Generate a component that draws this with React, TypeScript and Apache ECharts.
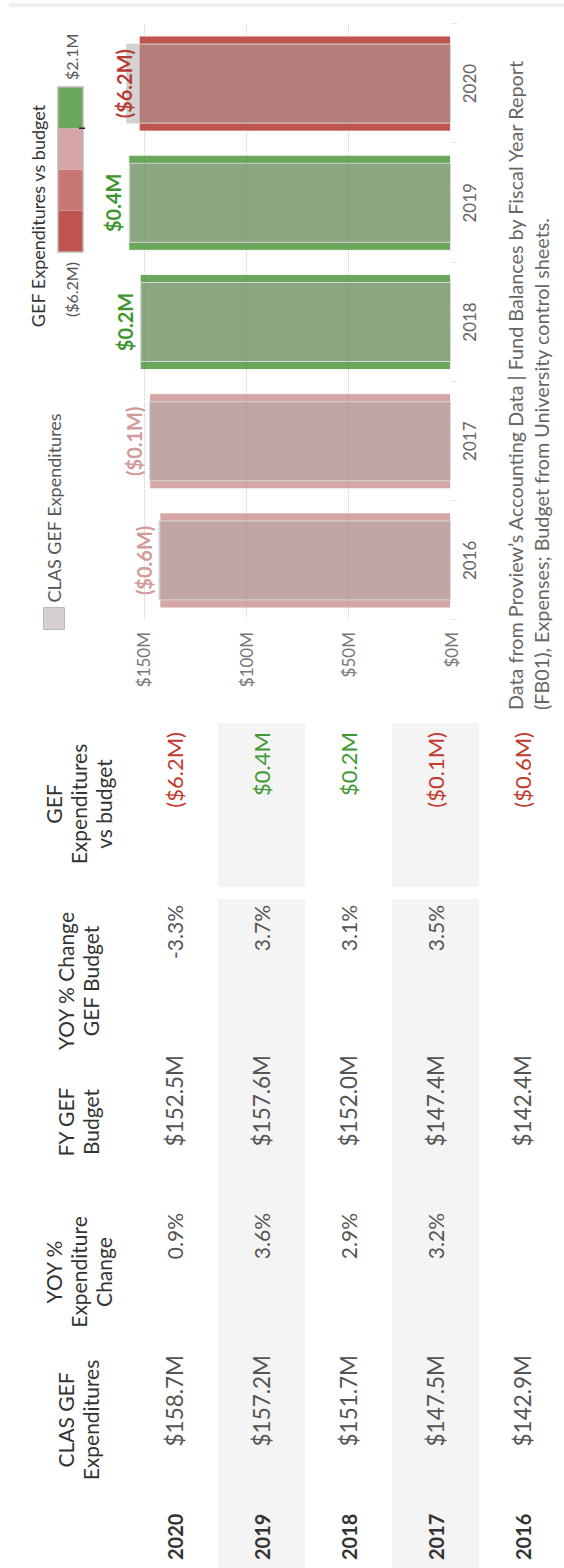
import React, { useEffect, useRef } from "react";
import * as echarts from "echarts";

// ---------- data ----------
const years = ["2020", "2019", "2018", "2017", "2016"];
const expenditures = [158.7, 157.2, 151.7, 147.5, 142.9];
const yoyExpChange: (number | null)[] = [0.9, 3.6, 2.9, 3.2, null];
const budget = [152.5, 157.6, 152.0, 147.4, 142.4];
const yoyBudgetChange: (number | null)[] = [-3.3, 3.7, 3.1, 3.5, null];
const variance = [-6.2, 0.4, 0.2, -0.1, -0.6];
const valueTicks = [0, 50, 100, 150];
const rampMin = -6.2;
const rampMax = 2.1;
const rampColors = ["#c0544f", "#c97774", "#d5a6a5", "#6aa75b"];
const labelColors = ["#b73d37", "#c0605c", "#d39a99", "#3f962f"];
const headers = [
  "CLAS GEF\nExpenditures",
  "YOY %\nExpenditure\nChange",
  "FY GEF\nBudget",
  "YOY % Change\nGEF Budget",
  "GEF\nExpenditures\nvs budget",
];
const footnote =
  "Data from Proview\u2019s Accounting Data | Fund Balances by Fiscal Year Report\n(FB01), Expenses; Budget from University control sheets.";

// ---------- helpers ----------
const W = 1568;
const H = 564;
const FONT = "Lato";
const money = (v: number) => `$${v.toFixed(1)}M`;
const varText = (v: number) => (v < 0 ? `($${Math.abs(v).toFixed(1)}M)` : `$${v.toFixed(1)}M`);
const pct = (v: number | null) => (v === null ? "" : `${v.toFixed(1)}%`);
const stepIndex = (v: number) =>
  Math.max(0, Math.min(rampColors.length - 1, Math.floor(((v - rampMin) / (rampMax - rampMin)) * rampColors.length)));

function buildGraphics() {
  const g: any[] = [];
  const rowTop = 131;
  const rowH = 87;
  // row bands
  years.forEach((_, i) => {
    if (i % 2 === 1) {
      g.push({ type: "rect", silent: true, z: -10, shape: { x: 0, y: rowTop + i * rowH, width: 669, height: rowH }, style: { fill: "#f4f4f4" } });
      g.push({ type: "rect", silent: true, z: -10, shape: { x: 681, y: rowTop + i * rowH, width: 164, height: rowH }, style: { fill: "#f4f4f4" } });
    }
  });
  // headers
  const headerCenters = [148, 296, 446, 587, 764];
  headers.forEach((h, i) => {
    g.push({
      type: "text",
      x: headerCenters[i],
      y: 78,
      style: { text: h, fontSize: 21, fontFamily: FONT, fill: "#333", align: "center", verticalAlign: "middle", lineHeight: 25 },
    });
  });
  // rows
  const rights = [213, 355, 513, 663, 836];
  years.forEach((yr, i) => {
    const cy = rowTop + i * rowH + rowH / 2;
    const base = { fontSize: 21, fontFamily: FONT, fill: "#555", align: "right", verticalAlign: "middle" };
    const moneyStyle = { ...base, fontSize: 22.5 };
    g.push({ type: "text", x: 8, y: cy, style: { text: yr, fontSize: 20, fontWeight: "bold", fontFamily: FONT, fill: "#333", align: "left", verticalAlign: "middle" } });
    g.push({ type: "text", x: rights[0], y: cy, style: { ...moneyStyle, text: money(expenditures[i]) } });
    g.push({ type: "text", x: rights[1], y: cy, style: { ...base, text: pct(yoyExpChange[i]) } });
    g.push({ type: "text", x: rights[2], y: cy, style: { ...moneyStyle, text: money(budget[i]) } });
    g.push({ type: "text", x: rights[3], y: cy, style: { ...base, text: pct(yoyBudgetChange[i]) } });
    g.push({ type: "text", x: rights[4], y: cy, style: { ...base, fontSize: 22, text: varText(variance[i]), fill: variance[i] < 0 ? "#c23b2e" : "#3e9a30" } });
  });
  // colour ramp legend
  g.push({ type: "text", x: 1352, y: 38, style: { text: "GEF Expenditures vs budget", fontSize: 18, fontFamily: FONT, fill: "#333", align: "center", verticalAlign: "middle" } });
  const rampX = 1316;
  const rampW = 165;
  const segW = rampW / rampColors.length;
  rampColors.forEach((c, i) => {
    g.push({ type: "rect", shape: { x: rampX + i * segW, y: 58, width: segW, height: 25 }, style: { fill: c } });
  });
  g.push({ type: "rect", shape: { x: rampX, y: 58, width: rampW, height: 25 }, style: { fill: "none", stroke: "#bdb6b4", lineWidth: 1.5 } });
  g.push({ type: "line", shape: { x1: rampX + 3 * segW, y1: 79, x2: rampX + 3 * segW, y2: 85 }, style: { stroke: "#222", lineWidth: 1.5 } });
  g.push({ type: "text", x: rampX - 10, y: 71, style: { text: varText(rampMin), fontSize: 16, fontFamily: FONT, fill: "#555", align: "right", verticalAlign: "middle" } });
  g.push({ type: "text", x: rampX + rampW + 7, y: 71, style: { text: varText(rampMax), fontSize: 16, fontFamily: FONT, fill: "#555", align: "left", verticalAlign: "middle" } });
  // footnote
  g.push({ type: "text", x: 858, y: 528, style: { text: footnote, fontSize: 19.8, fontFamily: FONT, fill: "#666", align: "left", verticalAlign: "middle", lineHeight: 26 } });
  // right border strip
  g.push({ type: "rect", silent: true, shape: { x: 1561, y: 9, width: 4, height: H - 9 }, style: { fill: "#f0f0f0" } });
  return g;
}

function buildOption(): echarts.EChartsOption {
  const cats = [...years].reverse();
  const bud = [...budget].reverse();
  const exp = [...expenditures].reverse();
  const vari = [...variance].reverse();
  return {
    animation: false,
    backgroundColor: "#fff",
    textStyle: { fontFamily: FONT },
    grid: { left: 948, right: 24, top: 21, bottom: H - 451 },
    legend: {
      left: 933,
      top: 38,
      itemWidth: 22,
      itemHeight: 21,
      itemGap: 8,
      textStyle: { fontSize: 18, color: "#555", fontFamily: FONT },
      data: [{ name: "CLAS GEF Expenditures", icon: "rect", itemStyle: { color: "#d4d0cf", borderColor: "#bcb8b6", borderWidth: 1, opacity: 1 } }],
    },
    xAxis: [
      {
        type: "category",
        data: cats,
        axisLine: { show: false },
        axisTick: { show: true, length: 6, lineStyle: { color: "#e8e8e8" } },
        axisLabel: { fontSize: 17, color: "#666", margin: 10, fontFamily: FONT },
      },
      { type: "category", data: cats, show: false },
      { type: "category", data: cats, show: false },
    ],
    yAxis: {
      type: "value",
      min: 0,
      max: 210,
      interval: 50,
      axisLine: { show: false },
      axisTick: { show: false },
      splitLine: { show: false },
      axisLabel: {
        fontSize: 17,
        color: "#777",
        margin: 12,
        fontFamily: FONT,
        formatter: (v: number) => (valueTicks.includes(v) ? `$${v}M` : ""),
      },
    },
    series: [
      {
        type: "bar",
        name: "Budget",
        xAxisIndex: 0,
        barWidth: 96,
        data: bud.map((v, i) => ({ value: v, itemStyle: { color: rampColors[stepIndex(vari[i])] } })),
        itemStyle: { borderColor: "rgba(255,255,255,0.8)", borderWidth: 1 },
        z: 2,
      },
      {
        type: "bar",
        name: "CLAS GEF Expenditures",
        xAxisIndex: 1,
        barWidth: 80,
        data: exp,
        itemStyle: { color: "rgba(172,167,165,0.5)", borderColor: "#d6d6d6", borderWidth: 1 },
        z: 3,
        markLine: {
          silent: true,
          symbol: "none",
          label: { show: false },
          lineStyle: { type: "dotted", color: "rgba(120,120,120,0.35)", width: 1 },
          data: valueTicks.filter((v) => v > 0).map((v) => ({ yAxis: v })),
        },
      },
      {
        type: "bar",
        name: "Variance label",
        xAxisIndex: 2,
        barWidth: 96,
        silent: true,
        z: 6,
        data: bud.map((v, i) => ({ value: v, label: { color: labelColors[stepIndex(vari[i])] } })),
        itemStyle: { color: "rgba(0,0,0,0)" },
        label: {
          show: true,
          position: "top",
          distance: 5,
          fontSize: 20,
          fontWeight: "bold",
          fontFamily: FONT,
          formatter: (p: any) => varText(vari[p.dataIndex]),
        },
      },
    ],
    graphic: buildGraphics(),
  } as any;
}

export default function App() {
  const ref = useRef<HTMLDivElement>(null);
  useEffect(() => {
    document.body.style.margin = "0";
    if (!ref.current) return;
    const chart = echarts.init(ref.current, undefined, { renderer: "svg", width: W, height: H });
    chart.setOption(buildOption());
    return () => chart.dispose();
  }, []);
  return (
    <div style={{ width: H, height: W, position: "relative", overflow: "hidden", background: "#fff" }}>
      <div
        style={{
          position: "absolute",
          left: 0,
          top: 0,
          width: W,
          height: H,
          transformOrigin: "0 0",
          transform: `translateY(${W}px) rotate(-90deg)`,
        }}
      >
        <div ref={ref} style={{ width: W, height: H }} />
      </div>
    </div>
  );
}
